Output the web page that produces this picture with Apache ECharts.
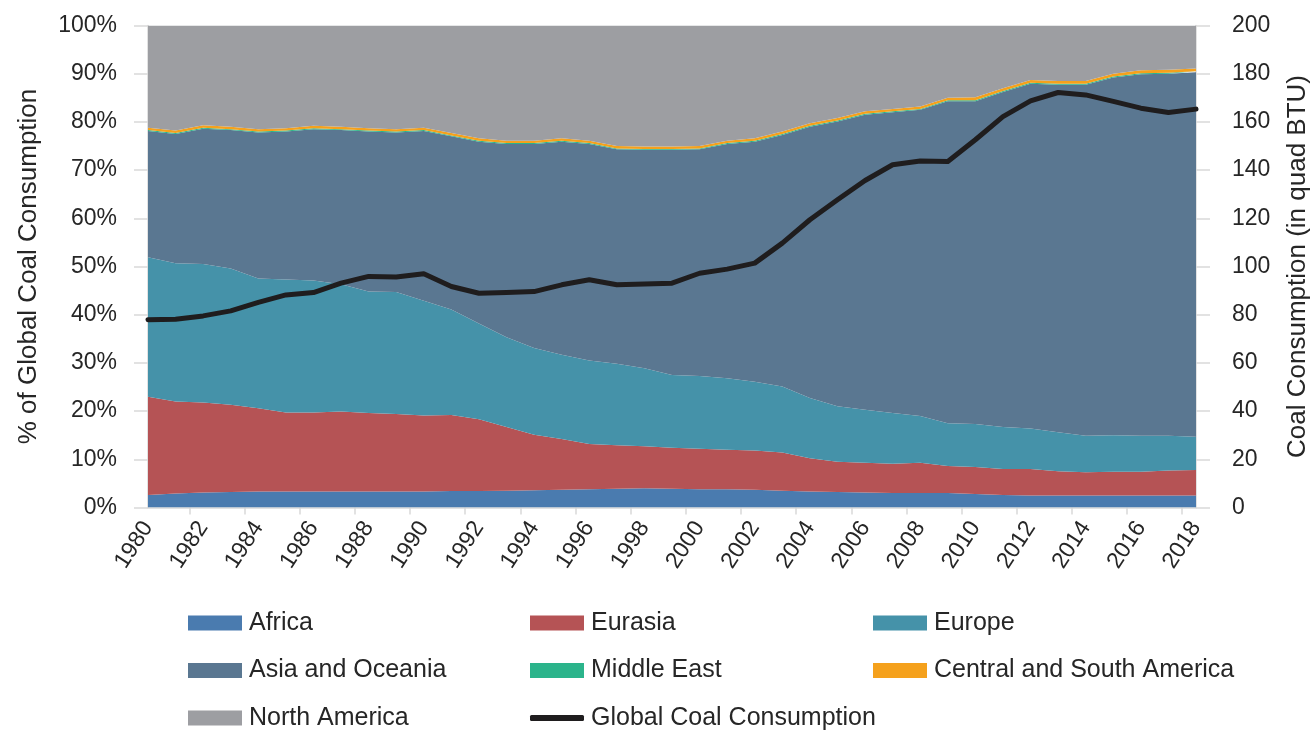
<!DOCTYPE html>
<html>
<head>
<meta charset="utf-8">
<script src="https://cdn.jsdelivr.net/npm/echarts@6/dist/echarts.min.js"></script>
<style>
html,body{margin:0;padding:0;background:#fff;}
#chart{width:1313px;height:732px;}
</style>
</head>
<body>
<div id="chart"></div>
<script>
// categories
var years = ['1980','1981','1982','1983','1984','1985','1986','1987','1988','1989',
	'1990','1991','1992','1993','1994','1995','1996','1997','1998','1999',
	'2000','2001','2002','2003','2004','2005','2006','2007','2008','2009',
	'2010','2011','2012','2013','2014','2015','2016','2017','2018'];

// share of global coal consumption, %
var africa = [2.6,2.9,3.1,3.2,3.3,3.3,3.3,3.3,3.3,3.3,
	3.3,3.4,3.4,3.5,3.6,3.7,3.8,3.9,4.0,3.9,
	3.8,3.8,3.7,3.5,3.3,3.2,3.1,3.0,3.0,3.0,
	2.8,2.6,2.5,2.5,2.5,2.5,2.5,2.5,2.5];
var eurasia = [20.4,19.1,18.7,18.1,17.3,16.4,16.4,16.6,16.3,16.1,
	15.8,15.8,14.9,13.2,11.5,10.5,9.4,9.0,8.7,8.5,
	8.4,8.2,8.1,7.9,6.9,6.3,6.2,6.1,6.3,5.6,
	5.6,5.4,5.5,5.0,4.8,4.9,4.9,5.2,5.3];
var europe = [28.9,28.7,28.7,28.3,26.9,27.6,27.4,26.4,25.2,25.3,
	23.8,21.9,19.9,18.6,18.0,17.5,17.3,16.9,16.2,15.1,
	15.1,14.8,14.3,13.7,12.5,11.5,11.0,10.5,9.7,8.9,
	8.9,8.7,8.4,8.1,7.6,7.6,7.5,7.2,6.9];
var asiaOceania = [26.2,26.8,28.1,28.7,30.3,30.7,31.4,32.0,33.2,33.1,
	35.2,35.9,37.7,40.1,42.3,44.2,44.9,44.5,45.3,46.7,
	47.0,48.6,49.8,52.2,56.3,59.1,61.2,62.4,63.5,66.8,
	67.0,69.5,71.5,72.1,72.8,74.2,75.0,75.1,75.6];
var middleEast = [0.2,0.2,0.2,0.2,0.2,0.2,0.2,0.2,0.2,0.2,
	0.2,0.2,0.2,0.2,0.2,0.2,0.2,0.2,0.2,0.2,
	0.2,0.2,0.2,0.2,0.2,0.2,0.2,0.2,0.2,0.2,
	0.2,0.2,0.2,0.2,0.2,0.2,0.2,0.2,0.2];
var centralSouthAmerica = [0.5,0.5,0.5,0.5,0.5,0.5,0.5,0.5,0.5,0.5,
	0.5,0.5,0.5,0.5,0.5,0.5,0.5,0.5,0.5,0.5,
	0.5,0.5,0.5,0.5,0.5,0.5,0.5,0.5,0.5,0.5,
	0.6,0.6,0.6,0.6,0.6,0.6,0.6,0.6,0.6];
var northAmerica = [21.2,21.8,20.7,21.0,21.5,21.3,20.8,21.0,21.3,21.5,
	21.2,22.3,23.4,23.9,23.9,23.4,23.9,25.0,25.1,25.1,
	25.0,23.9,23.4,22.0,20.3,19.2,17.8,17.3,16.8,15.0,
	14.9,13.0,11.3,11.5,11.5,10.0,9.3,9.2,8.9];

// global coal consumption, quad BTU
var globalCoal = [77.9,78.1,79.5,81.6,85.1,88.2,89.2,93.1,95.9,95.6,
	97.0,91.7,88.9,89.2,89.6,92.4,94.5,92.4,92.7,93.1,
	97.2,98.9,101.4,109.7,119.4,127.7,135.7,142.2,143.8,143.6,
	152.6,162.2,168.7,172.2,171.2,168.5,165.7,163.9,165.3];

var COLOR = {
	AFRICA:'#4A7BAF',
	EURASIA:'#B55355',
	EUROPE:'#4592A9',
	ASIA:'#5A7791',
	MIDDLE_EAST:'#2BB48B',
	CSA:'#F5A11C',
	NORTH_AMERICA:'#9D9EA2',
	LINE:'#1F1D1E',
	AXIS:'#D9D9D9',
	TEXT:'#262626'
};

var FONT = '"Liberation Sans", Arial, sans-serif';

function areaSeries(name,data,color){
	return {
		name:name,
		type:'line',
		stack:'share',
		data:data,
		symbol:'none',
		lineStyle:{width:0},
		itemStyle:{color:color},
		areaStyle:{color:color,opacity:1},
		emphasis:{disabled:true}
	};
}

// x ticks sit half way between years, every second year
var halfTicks = [];
for(var i = 1; i < years.length; i += 2){
	halfTicks.push(i+0.5);
}

//图例: one block per entry, laid out as 3 columns x 3 rows
function legendBlock(name,left,top,isLine){
	return {
		left:left,
		top:top,
		padding:0,
		itemWidth:54,
		itemHeight:isLine ? 6 : 15,
		itemGap:0,
		icon:isLine ? 'roundRect' : 'rect',
		selectedMode:false,
		textStyle:{color:COLOR.TEXT,fontSize:25,fontFamily:FONT,lineHeight:25,padding:[0,0,0,2]},
		data:[name]
	};
}

var myChart = echarts.init(document.getElementById('chart'));
myChart.setOption({
	animation:false,
	textStyle:{fontFamily:FONT},
	grid:{left:148,right:117,top:25.5,bottom:224.5,outerBoundsMode:'none',containLabel:false},
	legend:[
		legendBlock('Africa',188,610.5),
		legendBlock('Eurasia',530,610.5),
		legendBlock('Europe',873,610.5),
		legendBlock('Asia and Oceania',188,658),
		legendBlock('Middle East',530,658),
		legendBlock('Central and South America',873,658),
		legendBlock('North America',188,705.5),
		legendBlock('Global Coal Consumption',530,705.5,true)
	],
	xAxis:[
		{
			type:'category',
			boundaryGap:false,
			data:years,
			axisLine:{show:true,lineStyle:{color:COLOR.AXIS,width:1.5}},
			axisTick:{show:false},
			axisLabel:{
				interval:1,
				rotate:57,
				margin:16,
				color:COLOR.TEXT,
				fontSize:23,
				fontFamily:FONT
			}
		},
		{
			type:'value',
			position:'bottom',
			min:0,
			max:years.length-1,
			axisLine:{show:false},
			axisTick:{show:true,customValues:halfTicks,length:7,lineStyle:{color:COLOR.AXIS,width:1.5}},
			axisLabel:{show:false},
			splitLine:{show:false}
		}
	],
	yAxis:[
		{
			type:'value',
			min:0,
			max:100,
			interval:10,
			name:'% of Global Coal Consumption',
			nameLocation:'middle',
			nameGap:106,
			nameTextStyle:{color:COLOR.TEXT,fontSize:26,fontFamily:FONT},
			axisLine:{show:true,lineStyle:{color:COLOR.AXIS,width:1.5}},
			axisTick:{show:true,length:14,lineStyle:{color:COLOR.AXIS,width:1.5}},
			axisLabel:{formatter:'{value}%',color:COLOR.TEXT,fontSize:23,margin:31,fontFamily:FONT},
			splitLine:{show:false}
		},
		{
			type:'value',
			min:0,
			max:200,
			interval:20,
			name:'Coal Consumption (in quad BTU)',
			nameLocation:'middle',
			nameGap:89,
			nameTextStyle:{color:COLOR.TEXT,fontSize:26,fontFamily:FONT},
			axisLine:{show:true,lineStyle:{color:COLOR.AXIS,width:1.5}},
			axisTick:{show:true,length:14,lineStyle:{color:COLOR.AXIS,width:1.5}},
			axisLabel:{color:COLOR.TEXT,fontSize:23,margin:36,fontFamily:FONT},
			splitLine:{show:false}
		}
	],
	series:[
		areaSeries('Africa',africa,COLOR.AFRICA),
		areaSeries('Eurasia',eurasia,COLOR.EURASIA),
		areaSeries('Europe',europe,COLOR.EUROPE),
		areaSeries('Asia and Oceania',asiaOceania,COLOR.ASIA),
		areaSeries('Middle East',middleEast,COLOR.MIDDLE_EAST),
		areaSeries('Central and South America',centralSouthAmerica,COLOR.CSA),
		areaSeries('North America',northAmerica,COLOR.NORTH_AMERICA),
		{
			name:'Global Coal Consumption',
			type:'line',
			yAxisIndex:1,
			data:globalCoal,
			symbol:'none',
			itemStyle:{color:COLOR.LINE},
			lineStyle:{color:COLOR.LINE,width:5,cap:'round',join:'round'},
			emphasis:{disabled:true},
			z:5
		}
	]
});
</script>
</body>
</html>
